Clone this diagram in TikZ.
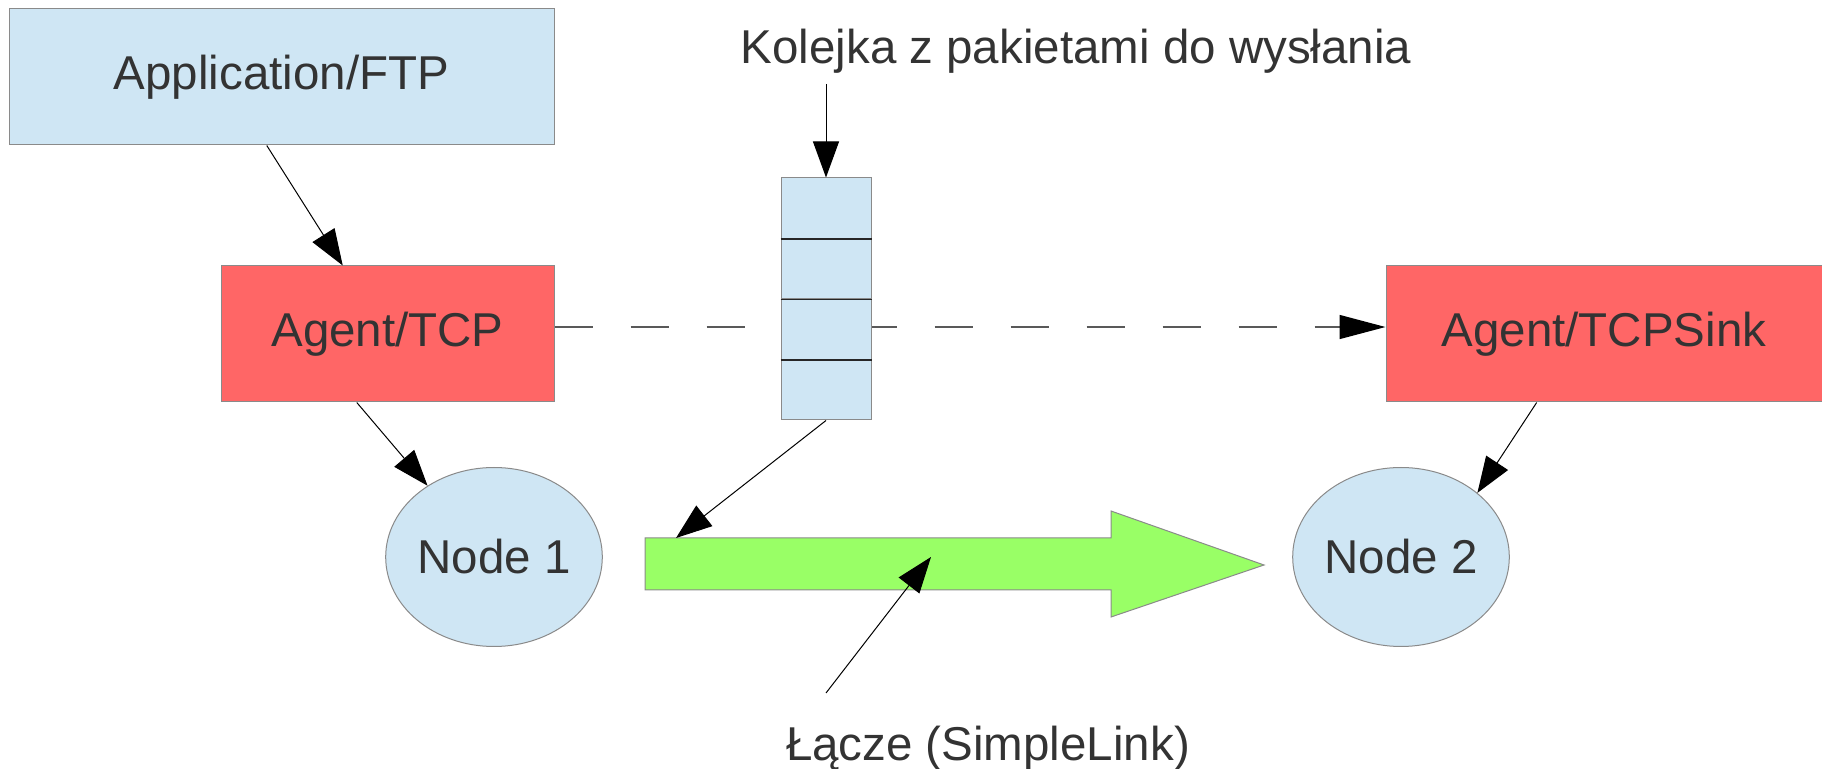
\documentclass[tikz,border=0pt]{standalone}
\usepackage{fontspec}
\setmainfont{Liberation Sans}
\usetikzlibrary{arrows.meta,shapes.geometric,calc}
\definecolor{lblue}{HTML}{CFE6F4}
\definecolor{lred}{HTML}{FF6666}
\definecolor{lgreen}{HTML}{99FF66}
\definecolor{txt}{HTML}{333333}
\definecolor{bord}{HTML}{8A8A8A}
\tikzset{
  box/.style={draw=bord, line width=0.5pt, inner sep=0pt, text=txt, font=\fontsize{23.75pt}{28pt}\selectfont},
  bluebox/.style={box, fill=lblue},
  redbox/.style={box, fill=lred},
  cell/.style={draw=bord, line width=0.5pt, fill=lblue, minimum width=45pt, minimum height=30.25pt, inner sep=0pt},
  ell/.style={box, ellipse, fill=lblue, minimum width=104.5pt, minimum height=89.5pt},
  lbl/.style={text=txt, font=\fontsize{23.75pt}{28pt}\selectfont, inner sep=0pt},
  conn/.style={line width=0.5pt, black, -{Triangle[length=18pt,width=13pt]}},
  dashconn/.style={line width=0.7pt, black!65, dash pattern=on 19pt off 19pt, -{Triangle[length=23pt,width=12pt,fill=black,color=black]}}
}
\begin{document}
\begin{tikzpicture}[x=0.5pt,y=-0.5pt]
\useasboundingbox (0,0) rectangle (1822,769);
% boxes
\node[bluebox, minimum width=272.5pt, minimum height=68pt] (app) at (281.5,77) {Application/FTP};
\node[redbox, minimum width=166.5pt, minimum height=68pt] (tcp) at (387.5,334) {Agent/TCP};
\node[redbox, minimum width=218pt, minimum height=68pt] (sink) at (1604,334) {Agent/TCPSink};
% dashed connection (behind queue)
\draw[dashconn] ($(tcp.north east)!0.449!(tcp.south east)$) -- ($(sink.north west)!0.449!(sink.south west)$);
% queue
\node[cell] (q1) at (826,208.25) {};
\node[cell] (q2) at (826,268.75) {};
\node[cell] (q3) at (826,329.25) {};
\node[cell] (q4) at (826,389.75) {};
\draw[black!85, line width=0.6pt] (q1.south west) -- (q1.south east);
\draw[black!85, line width=0.6pt] (q2.south west) -- (q2.south east);
\draw[black!85, line width=0.6pt] (q3.south west) -- (q3.south east);
% nodes
\node[ell] (n1) at (494,557) {Node 1};
\node[ell] (n2) at (1401,557) {Node 2};
% green link arrow
\coordinate (lk1) at (645,538);
\coordinate (lk2) at (1111,538);
\coordinate (lk3) at (1111,511);
\coordinate (lk4) at (1264,565);
\coordinate (lk5) at (1111,617);
\coordinate (lk6) at (1111,590);
\coordinate (lk7) at (645,590);
\draw[draw=bord, line width=0.5pt, fill=lgreen] (lk1) -- (lk2) -- (lk3) -- (lk4) -- (lk5) -- (lk6) -- (lk7) -- cycle;
\coordinate (linktip) at (676,538);
\coordinate (linkhit) at (931,557);
% labels
\node[lbl, anchor=base] (kol) at (1076,64) {Kolejka z pakietami do wysłania};
\node[lbl, anchor=base] (lab) at (988,761) {Łącze (SimpleLink)};
\coordinate (kolstart) at (826,84);
\coordinate (labstart) at (826,693);
% connectors
\draw[conn] ($(app.south west)!0.473!(app.south east)$) -- ($(tcp.north west)!0.366!(tcp.north east)$);
\draw[conn] ($(tcp.south west)!0.408!(tcp.south east)$) -- (n1.133.6);
\draw[conn] ($(sink.south west)!0.346!(sink.south east)$) -- (n2.40.5);
\draw[conn] (q4.south) -- (linktip);
\draw[conn] (labstart) -- (linkhit);
\draw[conn] (kolstart) -- (q1.north);
\end{tikzpicture}
\end{document}
